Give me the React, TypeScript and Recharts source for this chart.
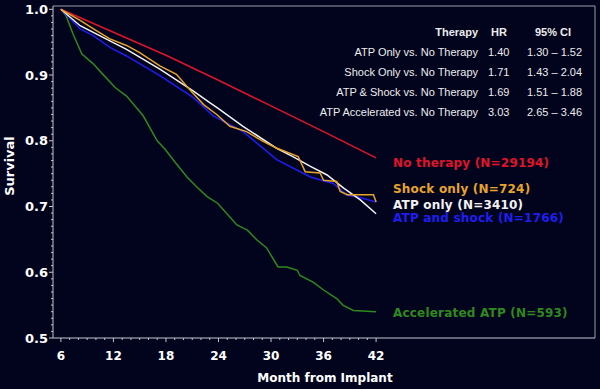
import { LineChart, Line, XAxis, YAxis, ReferenceLine } from 'recharts'

// Kaplan-Meier curves, survival by month from implant
const noTherapyMonths = [6, 12, 18, 24, 30, 36, 42]
const noTherapySurv = [1.0, 0.965, 0.93, 0.892, 0.853, 0.814, 0.774]

const shockMonths = [6, 8.2, 10, 11.6, 13.5, 15, 17.3, 19.2, 20.7, 22.3, 23.8, 25.3, 27.2, 29.1, 30.6, 31.2, 33.1, 33.9, 35.6, 36, 37.5, 37.9, 38.7, 41.7, 42]
const shockSurv = [1.0, 0.983, 0.968, 0.955, 0.945, 0.934, 0.914, 0.901, 0.878, 0.855, 0.84, 0.822, 0.814, 0.799, 0.789, 0.786, 0.776, 0.753, 0.751, 0.74, 0.738, 0.723, 0.718, 0.718, 0.707]

const atpMonths = [6, 8.2, 11.6, 13.5, 17.3, 21.1, 23, 24, 26.8, 30.7, 32.5, 34.5, 36.4, 38.3, 40.2, 42]
const atpSurv = [1.0, 0.975, 0.952, 0.939, 0.909, 0.876, 0.858, 0.849, 0.822, 0.788, 0.776, 0.761, 0.748, 0.728, 0.71, 0.689]

const bothMonths = [6, 8.2, 9.7, 11.6, 13.5, 17.3, 21.1, 23.4, 26.8, 30.7, 34.5, 37.1, 38.7, 39.8, 42]
const bothSurv = [1.0, 0.97, 0.96, 0.942, 0.929, 0.899, 0.866, 0.838, 0.814, 0.771, 0.745, 0.735, 0.717, 0.715, 0.707]

const accelMonths = [6, 6.6, 7.4, 8.4, 9.7, 10.8, 12.2, 13.5, 15.4, 17, 17.9, 19, 20.4, 21.5, 22.7, 23.9, 25.3, 26.1, 27.3, 28.4, 29.5, 30.8, 31.8, 33, 33.3, 34.8, 36, 37.5, 38.2, 39.4, 42]
const accelSurv = [1.0, 0.99, 0.962, 0.932, 0.917, 0.901, 0.881, 0.868, 0.838, 0.8, 0.787, 0.768, 0.745, 0.73, 0.715, 0.705, 0.684, 0.672, 0.664, 0.649, 0.637, 0.608, 0.608, 0.603, 0.595, 0.585, 0.573, 0.56, 0.55, 0.542, 0.54]

// hazard ratio table
const therapyRows = ['ATP Only vs. No Therapy', 'Shock Only vs. No Therapy', 'ATP & Shock vs. No Therapy', 'ATP Accelerated vs. No Therapy']
const hrValues = ['1.40', '1.71', '1.69', '3.03']
const ciValues = ['1.30 – 1.52', '1.43 – 2.04', '1.51 – 1.88', '2.65 – 3.46']

const monthTicks: number[] = []
for (let m = 6; m <= 42; m++) monthTicks.push(m)
const survTicks: number[] = []
for (let i = 50; i <= 100; i++) survTicks.push(i / 100)

const BG = '#02041e'
const AXIS = '#c4c4cc'
const RED = '#e0142a'
const ORANGE = '#e8a42a'
const WHITE = '#f2f2f2'
const BLUE = '#1e1ef2'
const GREEN = '#2e8a1e'

const toPoints = (ms: number[], ss: number[]) => ms.map((m, i) => ({ m, s: ss[i] }))

function XTick({ x, y, payload }: any) {
  const v = payload.value
  const major = v % 6 === 0
  return (
    <g>
      <line x1={x} x2={x} y1={y} y2={y + (major ? 4 : 2)} stroke={AXIS} />
      {major && (
        <text x={x} y={y + 22} textAnchor="middle" fill="#fff" fontSize={12} fontWeight="bold" fontFamily="DejaVu Sans">
          {v}
        </text>
      )}
    </g>
  )
}

function YTick({ x, y, payload }: any) {
  const v = payload.value
  const major = Math.round(v * 100) % 10 === 0
  return (
    <g>
      <line x1={x} x2={x - (major ? 4 : 2)} y1={y} y2={y} stroke={AXIS} />
      {major && (
        <text x={x - 5} y={y + 4.5} textAnchor="end" fill="#fff" fontSize={13} fontWeight="bold" fontFamily="DejaVu Sans">
          {v.toFixed(1)}
        </text>
      )}
    </g>
  )
}

const legendStyle = (color: string, top: number) => ({
  position: 'absolute' as const,
  left: 393,
  top: top - 6,
  lineHeight: '12px',
  color,
  fontFamily: 'DejaVu Sans',
  fontWeight: 'bold' as const,
  fontSize: 12,
  letterSpacing: 0.2,
  whiteSpace: 'nowrap' as const,
})

const tableFont = {
  position: 'absolute' as const,
  fontFamily: 'Liberation Sans, Arial',
  fontSize: 11,
  lineHeight: '14px',
  color: '#ececec',
  whiteSpace: 'nowrap' as const,
}

const rowCenters = [52, 72, 92, 112]

export default function App() {
  return (
    <div style={{ position: 'relative', width: 600, height: 389, background: BG }}>
      <style>{`body{margin:0;background:${BG}}`}</style>
      <LineChart width={600} height={389} margin={{ top: 6, right: 5, bottom: 0, left: 0 }}>
        <XAxis
          type="number"
          dataKey="m"
          domain={[5.1, 67]}
          ticks={monthTicks}
          interval={0}
          tick={<XTick />}
          tickLine={false}
          tickSize={0}
          tickMargin={0}
          height={51}
          stroke={AXIS}
          allowDataOverflow
        />
        <YAxis
          type="number"
          domain={[0.5, 1.005]}
          ticks={survTicks}
          interval={0}
          tick={<YTick />}
          tickLine={false}
          tickSize={0}
          tickMargin={0}
          width={53}
          stroke={AXIS}
          allowDataOverflow
        />
        <ReferenceLine y={1.005} stroke="#9a9aa8" />
        <ReferenceLine x={67} stroke="#9a9aa8" />
        <Line data={toPoints(noTherapyMonths, noTherapySurv)} dataKey="s" stroke={RED} strokeWidth={1.5} dot={false} isAnimationActive={false} />
        <Line data={toPoints(accelMonths, accelSurv)} dataKey="s" stroke={GREEN} strokeWidth={1.5} dot={false} isAnimationActive={false} />
        <Line data={toPoints(bothMonths, bothSurv)} dataKey="s" stroke={BLUE} strokeWidth={1.5} dot={false} isAnimationActive={false} />
        <Line data={toPoints(atpMonths, atpSurv)} dataKey="s" stroke={WHITE} strokeWidth={1.5} dot={false} isAnimationActive={false} />
        <Line data={toPoints(shockMonths, shockSurv)} dataKey="s" stroke={ORANGE} strokeWidth={1.5} dot={false} isAnimationActive={false} />
      </LineChart>

      {/* hazard ratio table */}
      <div style={{ ...tableFont, right: 122, top: 32 - 7, fontWeight: 'bold', textAlign: 'right' }}>Therapy</div>
      <div style={{ ...tableFont, left: 491, top: 32 - 7, fontWeight: 'bold' }}>HR</div>
      <div style={{ ...tableFont, left: 535, top: 32 - 7, fontWeight: 'bold' }}>95% CI</div>
      {therapyRows.map((t, i) => (
        <div key={t}>
          <div style={{ ...tableFont, right: 122, top: rowCenters[i] - 7, textAlign: 'right' }}>{t}</div>
          <div style={{ ...tableFont, left: 488, top: rowCenters[i] - 7 }}>{hrValues[i]}</div>
          <div style={{ ...tableFont, left: 527, top: rowCenters[i] - 7 }}>{ciValues[i]}</div>
        </div>
      ))}

      {/* curve labels */}
      <div style={legendStyle(RED, 163)}>No therapy (N=29194)</div>
      <div style={legendStyle(ORANGE, 189)}>Shock only (N=724)</div>
      <div style={legendStyle(WHITE, 205)}>ATP only (N=3410)</div>
      <div style={legendStyle(BLUE, 218)}>ATP and shock (N=1766)</div>
      <div style={legendStyle(GREEN, 313)}>Accelerated ATP (N=593)</div>

      {/* axis titles */}
      <div
        style={{
          position: 'absolute',
          left: 10 - 40,
          top: 166 - 8,
          width: 80,
          lineHeight: '16px',
          textAlign: 'center',
          transform: 'rotate(-90deg)',
          color: '#fff',
          fontFamily: 'DejaVu Sans',
          fontWeight: 'bold',
          fontSize: 13,
        }}
      >
        Survival
      </div>
      <div
        style={{
          position: 'absolute',
          left: 325 - 100,
          top: 378 - 8,
          width: 200,
          lineHeight: '16px',
          textAlign: 'center',
          color: '#fff',
          fontFamily: 'DejaVu Sans',
          fontWeight: 'bold',
          fontSize: 12,
        }}
      >
        Month from Implant
      </div>
    </div>
  )
}
